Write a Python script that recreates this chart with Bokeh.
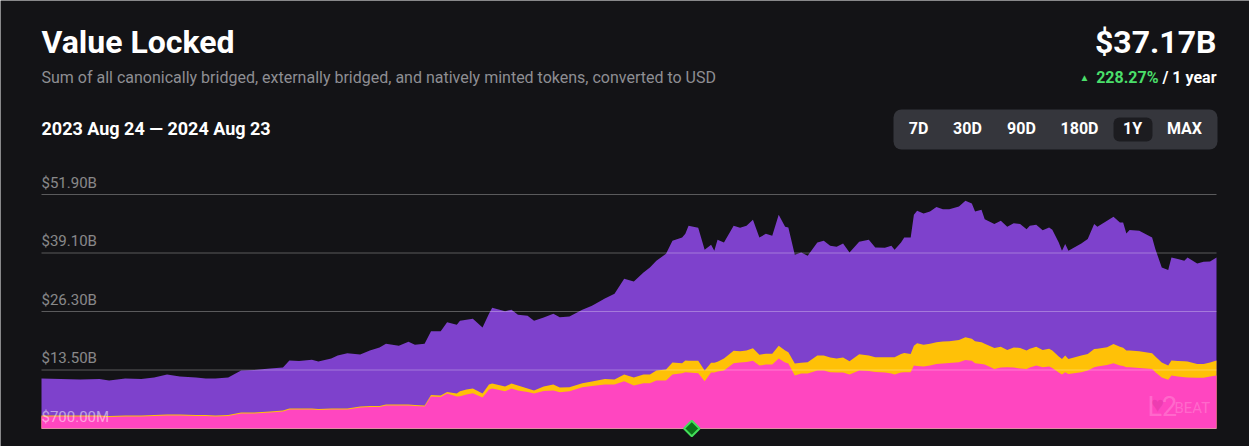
import numpy as np
import pandas as pd
from bokeh.plotting import figure
from bokeh.models import Range1d, Label, BoxAnnotation, ColumnDataSource
from bokeh.core.properties import value
from bokeh.embed import file_html
from bokeh.resources import INLINE

# ---------------- data (billions of USD) ----------------
start_date = "2023-08-24"
days = [0, 6, 12, 18, 21, 26, 31, 35, 39, 43,
        48, 51, 54, 58, 62, 66, 71, 75, 77, 80,
        84, 86, 90, 92, 95, 99, 102, 105, 107, 111,
        114, 116, 119, 121, 124, 126, 129, 130, 132, 134,
        137, 139, 140, 144, 146, 148, 151, 153, 156, 159,
        161, 164, 168, 171, 175, 178, 181, 184, 187, 189,
        191, 194, 196, 199, 200, 201, 204, 206, 208, 209,
        210, 212, 215, 217, 219, 221, 223, 225, 227, 229,
        231, 232, 234, 236, 238, 241, 243, 245, 247, 249,
        251, 254, 257, 259, 262, 264, 265, 267, 268, 270,
        271, 272, 274, 276, 278, 280, 282, 285, 287, 289,
        290, 292, 293, 296, 298, 300, 302, 304, 306, 307,
        309, 311, 313, 314, 316, 317, 318, 319, 323, 325,
        327, 328, 331, 333, 335, 336, 337, 338, 341, 345,
        346, 348, 350, 351, 353, 355, 356, 359, 361, 363,
        365]

native = [3.32, 3.32, 3.32, 3.32, 3.21, 3.32, 3.32, 3.43, 3.54, 3.54,
          3.43, 3.43, 3.32, 3.43, 3.98, 3.98, 4.20, 4.41, 4.85, 4.85,
          4.85, 4.74, 4.85, 4.85, 4.85, 5.29, 5.40, 5.40, 5.72, 5.72,
          5.72, 5.61, 5.51, 7.69, 7.58, 8.35, 7.69, 7.76, 8.13, 8.41,
          7.47, 9.22, 9.44, 8.85, 9.44, 9.00, 8.67, 8.35, 8.89, 9.00,
          8.63, 8.85, 9.72, 9.98, 10.31, 10.31, 11.03, 10.09, 10.60, 10.60,
          11.19, 11.19, 12.50, 12.78, 13.00, 12.93, 12.78, 11.03, 12.93, 12.93,
          13.15, 13.37, 14.96, 15.12, 15.23, 15.55, 14.46, 14.68, 14.68, 15.99,
          15.12, 14.90, 12.28, 12.71, 12.71, 13.37, 13.37, 13.00, 12.93, 12.93,
          12.50, 13.37, 13.26, 13.04, 12.93, 12.71, 12.50, 12.93, 13.00, 13.00,
          14.46, 14.35, 14.24, 14.46, 14.83, 14.90, 15.01, 15.18, 15.71, 15.55,
          14.96, 14.83, 14.68, 13.74, 14.02, 14.09, 14.02, 13.81, 13.74, 14.02,
          14.46, 14.09, 14.24, 13.92, 12.93, 12.50, 13.00, 12.65, 13.00, 13.37,
          14.09, 14.24, 14.57, 14.96, 14.46, 14.35, 14.09, 14.09, 13.92, 13.74,
          13.00, 11.84, 11.34, 12.28, 12.06, 11.91, 11.84, 11.78, 11.78, 12.06,
          12.28]

external = [0.22, 0.22, 0.22, 0.22, 0.22, 0.22, 0.22, 0.22, 0.22, 0.22,
            0.22, 0.22, 0.22, 0.22, 0.22, 0.22, 0.22, 0.22, 0.22, 0.22,
            0.22, 0.22, 0.22, 0.22, 0.22, 0.22, 0.22, 0.22, 0.22, 0.22,
            0.22, 0.22, 0.22, 0.33, 0.33, 0.33, 0.66, 1.09, 1.09, 1.03,
            0.87, 1.09, 1.09, 1.03, 1.09, 1.09, 0.76, 0.66, 0.98, 1.31,
            1.03, 0.87, 0.87, 0.98, 1.20, 1.09, 1.46, 1.75, 1.90, 1.90,
            2.18, 2.40, 2.62, 2.18, 2.56, 2.62, 2.77, 2.34, 2.18, 2.18,
            2.18, 2.62, 2.77, 2.47, 2.51, 2.69, 2.40, 2.40, 2.40, 2.84,
            2.62, 2.47, 2.62, 2.40, 2.47, 3.28, 3.28, 3.21, 3.06, 3.28,
            2.91, 3.60, 3.39, 3.23, 3.34, 3.56, 3.78, 4.08, 4.24, 4.02,
            4.37, 4.98, 4.81, 4.81, 4.72, 4.81, 4.76, 4.89, 4.94, 4.81,
            4.81, 4.72, 4.59, 4.59, 4.59, 3.80, 4.43, 4.52, 4.00, 4.15,
            4.15, 3.80, 3.93, 3.82, 3.50, 3.43, 3.65, 3.28, 3.65, 3.65,
            4.02, 3.93, 3.89, 4.24, 4.15, 4.04, 3.65, 3.65, 3.67, 3.41,
            3.43, 3.28, 3.12, 3.28, 3.39, 3.50, 3.50, 3.06, 3.06, 3.06,
            3.28]

canonical = [8.08, 7.97, 7.86, 7.97, 7.75, 8.08, 7.97, 8.19, 8.74, 8.30,
             8.19, 7.97, 8.08, 8.19, 9.17, 9.28, 9.39, 9.39, 10.49, 10.38,
             10.70, 10.38, 10.92, 11.58, 12.08, 11.36, 12.12, 12.78, 13.32, 12.89,
             13.76, 13.22, 13.54, 13.94, 14.05, 15.25, 15.07, 15.44, 15.29, 15.29,
             14.48, 15.51, 16.60, 16.45, 16.16, 15.51, 15.95, 15.29, 15.14, 15.51,
             15.36, 15.51, 16.10, 16.60, 17.65, 18.79, 20.97, 21.04, 22.35, 23.44,
             24.03, 25.34, 26.65, 27.52, 27.74, 29.49, 29.05, 26.43, 25.78, 24.47,
             26.65, 25.40, 27.31, 27.02, 27.31, 28.11, 25.62, 26.21, 25.78, 28.62,
             27.09, 27.31, 23.81, 24.09, 23.31, 24.75, 25.12, 24.47, 24.47, 24.97,
             23.81, 24.57, 25.34, 24.03, 23.96, 24.40, 23.53, 24.38, 25.25, 25.47,
             28.62, 28.99, 28.68, 28.90, 29.64, 28.99, 28.92, 29.18, 29.86, 29.55,
             28.40, 28.99, 27.24, 27.09, 27.52, 26.93, 27.17, 27.09, 26.58, 26.87,
             26.65, 26.21, 26.50, 26.43, 24.97, 23.66, 24.40, 23.66, 24.53, 25.12,
             27.31, 26.65, 27.68, 27.81, 27.15, 27.37, 25.62, 26.37, 26.37, 25.34,
             23.53, 20.82, 20.90, 22.56, 22.32, 22.00, 22.78, 21.98, 22.35, 22.13,
             22.56]

tick_values = [0.7, 13.5, 26.3, 39.1, 51.9]
tick_labels = ["$700.00M", "$13.50B", "$26.30B", "$39.10B", "$51.90B"]
event_dates = ["2024-03-13"]  # marker on the time axis
range_buttons = ["7D", "30D", "90D", "180D", "1Y", "MAX"]

# ---------------- layout / style ----------------
W, H = 1249, 446
BG = "#131316"
PURPLE, YELLOW, PINK = "#7E41CC", "#FFC107", "#FF46C0"
GREEN = "#4ade6a"
FONT = "Roboto"
plot_left_px, plot_right_px = 41, 1216
ytick_lo_px, ytick_hi_px = 428, 194

dates = pd.Timestamp(start_date) + pd.to_timedelta(days, unit="D")
span_days = days[-1] - days[0]
ppd = (plot_right_px - plot_left_px) / span_days
x_start = dates[0] - pd.Timedelta(days=plot_left_px / ppd)
x_end = dates[-1] + pd.Timedelta(days=(W - plot_right_px) / ppd)
vpp = (tick_values[-1] - tick_values[0]) / (ytick_lo_px - ytick_hi_px)
y_start = tick_values[0] - (H - ytick_lo_px) * vpp
y_end = tick_values[0] + ytick_lo_px * vpp

p = figure(width=W, height=H, output_backend="svg", toolbar_location=None,
           x_axis_type=None, y_axis_type=None,
           x_range=Range1d(x_start.to_pydatetime(), x_end.to_pydatetime()),
           y_range=Range1d(y_start, y_end),
           min_border=0, background_fill_color=BG, border_fill_color=BG,
           outline_line_color=None)
p.grid.visible = False

nat = np.array(native)
ext = np.array(external)
can = np.array(canonical)
src = ColumnDataSource(dict(
    x=dates,
    base=np.full(len(days), tick_values[0]),
    t1=nat, t2=nat + ext, t3=nat + ext + can))

p.varea(x="x", y1="base", y2="t3", source=src, fill_color=PURPLE)
p.varea(x="x", y1="base", y2="t2", source=src, fill_color=YELLOW)
p.varea(x="x", y1="base", y2="t1", source=src, fill_color=PINK)

# gridlines
p.segment(x0=[dates[0]] * len(tick_values), x1=[dates[-1]] * len(tick_values),
          y0=tick_values, y1=tick_values, line_color="white", line_alpha=0.3,
          line_width=1)

# y tick labels (sit above their gridline)
p.text(x=[dates[0]] * len(tick_values), y=tick_values, text=tick_labels,
       text_font=value(FONT), text_font_size="15px", text_color="white",
       text_alpha=0.5, text_baseline="middle", text_align="left",
       y_offset=-12)

# event marker
ev = pd.to_datetime(event_dates)
p.scatter(x=ev, y=[tick_values[0]] * len(ev), marker="square", angle=np.pi / 4,
          size=11, fill_color="#0a7318", line_color="#43e05a", line_width=2)


def lab(x, ypx, text, size, color="white", bold=False, align="left",
        baseline="middle", alpha=1.0):
    p.add_layout(Label(x=x, y=H - ypx, x_units="screen", y_units="screen", text=text,
                       text_font=FONT, text_font_size=size, text_color=color,
                       text_alpha=alpha,
                       text_font_style="bold" if bold else "normal",
                       text_align=align, text_baseline=baseline))


# watermark
lab(1157, 404, "\u2665", "22px", color="#d8329f", align="center", alpha=0.45)
lab(1147, 406, "L2", "27px", alpha=0.2)
lab(1174, 407, "BEAT", "15px", alpha=0.2)

lab(41, 41.5, "Value Locked", "32px", bold=True)
lab(41, 76.5, "Sum of all canonically bridged, externally bridged, and natively minted tokens, converted to USD",
    "16px", color="#8e8e93")
lab(41, 128.3, "2023 Aug 24 \u2014 2024 Aug 23", "18px", bold=True)
lab(1216, 41.5, "$37.17B", "32px", bold=True, align="right")
lab(1216, 76.5, "/ 1 year", "16px", bold=True, align="right")
lab(1158, 76.5, "228.27%", "16px", color=GREEN, bold=True, align="right")
lab(1084, 77, "\u25B2", "10px", color=GREEN, align="center")

# range selector
p.add_layout(BoxAnnotation(left=893, right=1217, bottom=H - 149, top=H - 109,
                           left_units="screen", right_units="screen",
                           top_units="screen", bottom_units="screen",
                           fill_color="#35363c", fill_alpha=1, line_color=None,
                           border_radius=8))
p.add_layout(BoxAnnotation(left=1113, right=1152, bottom=H - 141, top=H - 117,
                           left_units="screen", right_units="screen",
                           top_units="screen", bottom_units="screen",
                           fill_color="#1c1c20", fill_alpha=1, line_color=None,
                           border_radius=6))
btn_x = [918, 967, 1021, 1079, 1132, 1184]
for bx, bt in zip(btn_x, range_buttons):
    lab(bx, 128.3, bt, "16px", bold=True, align="center")

open("out.html", "w").write(file_html(p, INLINE))
